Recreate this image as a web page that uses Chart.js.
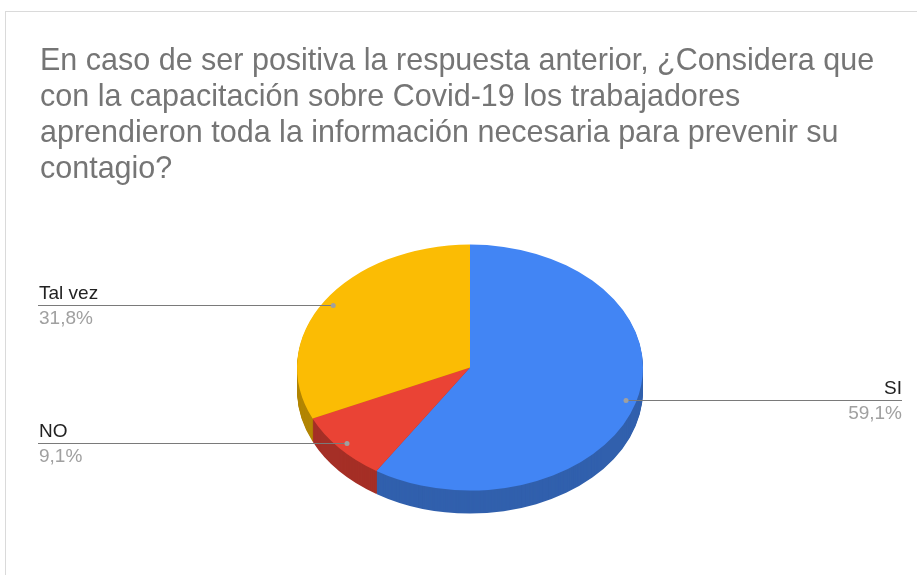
<!DOCTYPE html>
<html>
<head>
<meta charset="utf-8">
<script src="https://cdn.jsdelivr.net/npm/chart.js@4"></script>
<style>
    html, body { margin: 0; padding: 0; background: #fff; overflow: hidden; }
    #wrap { position: relative; width: 917px; height: 575px; }
    #frame {
        position: absolute; left: 5px; top: 11px; width: 1000px; height: 1000px;
        border: 1px solid #dadada; box-sizing: border-box;
    }
    canvas { position: absolute; left: 0; top: 0; }
</style>
</head>
<body>
<div id="wrap">
    <div id="frame"></div>
    <canvas id="chart" width="917" height="575"></canvas>
</div>
<script>
// ========================================
// Data
// ========================================
const titleLines = [
    'En caso de ser positiva la respuesta anterior, ¿Considera que',
    'con la capacitación sobre Covid-19 los trabajadores',
    'aprendieron toda la información necesaria para prevenir su',
    'contagio?'
];
const categories = ['SI', 'NO', 'Tal vez'];
const percents = [59.1, 9.1, 31.8];

// Colors (Google Sheets palette)
const topColors = ['#4285f4', '#ea4335', '#fbbc04'];
const sideColors = ['#3160ad', '#a52f26', '#b28503'];

const tilt = 123 / 173;   // vertical squash of the pie
const depth = 23;         // thickness of the pie in px

const fmt = (v) => v.toFixed(1).replace('.', ',') + '%';

// ========================================
// 3D pie: squash + extruded side
// ========================================
const pie3d = {
    id: 'pie3d',
    beforeDatasetsDraw(chart) {
        const ctx = chart.ctx;
        const arcs = chart.getDatasetMeta(0).data;
        const { x, y } = arcs[0];
        ctx.save();
        ctx.translate(x, y);
        ctx.scale(1, tilt);
        ctx.translate(-x, -y);
        for (let d = depth; d > 0; d--) {
            arcs.forEach((a, i) => {
                const oy = a.y + d / tilt;
                ctx.beginPath();
                ctx.moveTo(a.x, oy);
                ctx.arc(a.x, oy, a.outerRadius, a.startAngle, a.endAngle);
                ctx.closePath();
                ctx.fillStyle = sideColors[i];
                ctx.fill();
            });
        }
    },
    afterDatasetsDraw(chart) {
        chart.ctx.restore();
    }
};

// ========================================
// Leader lines + labels
// ========================================
const sideLabels = {
    id: 'sideLabels',
    afterDraw(chart) {
        const ctx = chart.ctx;
        const arcs = chart.getDatasetMeta(0).data;
        const leftX = 38, rightX = 902;
        ctx.save();
        arcs.forEach((a, i) => {
            const mid = (a.startAngle + a.endAngle) / 2;
            const px = a.x + Math.cos(mid) * a.outerRadius * 0.94;
            const py = a.y + Math.sin(mid) * a.outerRadius * 0.94 * tilt;
            const right = Math.cos(mid) > 0;
            const ly = Math.round(py) + 0.5;

            ctx.strokeStyle = '#7a7a7a';
            ctx.lineWidth = 1;
            ctx.beginPath();
            ctx.moveTo(right ? px : leftX, ly);
            ctx.lineTo(right ? rightX : px, ly);
            ctx.stroke();

            ctx.fillStyle = '#a0a0a0';
            ctx.beginPath();
            ctx.arc(px, ly, 2.5, 0, Math.PI * 2);
            ctx.fill();

            ctx.textAlign = right ? 'right' : 'left';
            ctx.textBaseline = 'alphabetic';
            ctx.font = "19px 'Liberation Sans', Arial, sans-serif";
            const tx = right ? rightX : leftX + 1;
            ctx.fillStyle = '#222222';
            ctx.fillText(categories[i], tx, Math.round(py) - 6);
            ctx.fillStyle = '#a0a0a0';
            ctx.fillText(fmt(percents[i]), tx, Math.round(py) + 19);
        });
        ctx.restore();
    }
};

new Chart(document.getElementById('chart'), {
    type: 'pie',
    data: {
        labels: categories,
        datasets: [{
            data: percents,
            backgroundColor: topColors,
            borderWidth: 0,
            radius: 173,
            clip: false
        }]
    },
    options: {
        responsive: false,
        animation: false,
        events: [],
        layout: { padding: { left: 40, right: 17, top: 0, bottom: 28 } },
        plugins: {
            legend: { display: false },
            tooltip: { enabled: false },
            title: {
                display: true,
                text: titleLines,
                align: 'start',
                color: '#757575',
                font: { family: "'Liberation Sans', Arial, sans-serif", size: 30.5, weight: 'normal', lineHeight: 1.19 },
                padding: { top: 43, bottom: 0 }
            }
        }
    },
    plugins: [pie3d, sideLabels]
});
</script>
</body>
</html>
